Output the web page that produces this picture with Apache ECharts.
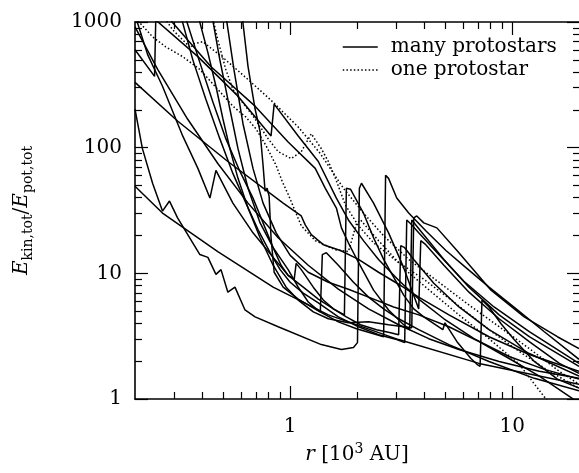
<!DOCTYPE html>
<html><head><meta charset="utf-8">
<script src="https://cdn.jsdelivr.net/npm/echarts@6/dist/echarts.min.js"></script>
<style>html,body{margin:0;padding:0;background:#fff}#c{width:579px;height:473px}</style>
</head><body><div id="c"></div>
<script>
// tick values
const xMajorTicks = [1, 10];
const xMinorTicks = [0.3,0.4,0.5,0.6,0.7,0.8,0.9,2,3,4,5,6,7,8,9];
const yMajorTicks = [1, 10, 100, 1000];
const yMinorTicks = [2,3,4,5,6,7,8,9,20,30,40,50,60,70,80,90,200,300,400,500,600,700,800,900];

// "many protostars" curves (r in 10^3 AU, Ekin/Epot)
const s1x = [0.2,0.266,0.472,0.838,1.486,3.08,7.09,20];
const s1y = [49.3,30.2,14.9,7.76,4.67,2.97,1.92,1.31];
const s2x = [0.2,0.216,0.240,0.266,0.286,0.311,0.392,0.426,0.463,0.488,0.524,0.564,0.626,0.695,0.883,1.381,1.702,1.928,2.01,2.05,2.095,2.375,2.775,3.246,3.793,3.875,4.081,4.925,6.388,8.732,11.94,16.32,20];
const s2y = [203,98.2,52.1,31.3,37.6,27.6,14.1,13.4,9.82,10.7,7.08,7.76,5.11,4.50,3.76,2.71,2.48,2.57,2.81,47.5,52.1,36.2,21.0,11.1,5.21,18.2,16.9,11.6,7.08,4.35,2.86,1.92,1.60];
const s3x = [0.2,0.245,0.248,0.384,0.582,0.820,0.847,1.087,1.339,1.615,1.829,2.138,2.5,3.08,3.793,4.925,6.73,9.688,13.96,20];
const s3y = [602,369,1037,530,257,124,222,124,77.6,39.7,26.6,18.2,12.9,8.81,6.24,4.35,3.02,2.18,1.72,1.44];
const s4x = [0.2835,0.439,0.695,0.979,1.297,1.44,1.615,1.702,1.829,2.031,2.375,2.775,3.246,3.455,3.529,3.997,4.925,6.388,8.732,11.94,20];
const s4y = [1075,442,214,111,68.4,47.5,33.1,23.0,17.5,12.2,7.35,5.11,3.90,3.56,26.6,20.3,12.9,7.76,4.67,3.13,1.82];
const s5x = [0.607,0.646,0.695,0.732,0.755,0.771,0.787,0.804,0.820,0.847,0.930,1.087,1.339,1.648,1.99,2.375,2.636,2.69,2.775,3.02,3.419,4.081,5.03,6.19,7.866,10.42,13.96,20];
const s5y = [1135,442,203,134,72.1,45.1,47.5,41.1,19.2,10.2,7.76,6.24,5.02,4.11,3.62,3.31,3.13,60.2,57.0,39.7,30.2,21.8,15.2,11.1,7.76,5.21,3.43,2.07];
const s6x = [0.384,0.426,0.463,0.498,0.535,0.582,0.646,0.732,0.838,0.959,1.087,1.271,1.486,1.829,2.254,2.775,3.246,3.529,3.603,3.718,3.997,4.58,5.64,8.03,11.33,15.98,20];
const s6y = [1135,570,308,169,98.2,57.0,33.1,19.2,11.6,7.76,6.13,4.93,4.35,4.04,4.11,3.90,3.76,3.69,27.6,28.6,25.2,23.0,15.2,7.35,4.50,3.13,2.52];
const s7x = [0.2,0.228,0.266,0.328,0.384,0.435,0.463,0.552,0.680,0.838,0.979,1.145,1.339,1.566,1.755,1.791,1.869,2.138,2.375,2.636,2.924,3.246,3.603,3.997,4.87,4.98,5.64,6.52,6.94,7.17,7.31,7.866,8.91,10.2,12.58,15.98,20];
const s7y = [1135,550,308,124,68.4,39.7,65.9,36.2,21.0,13.4,9.64,7.76,6.24,5.21,4.67,47.5,46.7,30.2,19.2,12.9,9.31,6.71,5.21,4.50,3.56,4.04,2.86,2.10,1.89,1.82,6.13,5.40,3.97,2.97,1.99,1.44,1.22];
const s8x = [0.2,0.311,0.524,0.930,1.122,1.169,1.245,1.41,1.684,2.031,2.5,3.08,3.793,5.189,7.866,11.94,20];
const s8y = [331,163,77.6,36.2,28.6,24.3,20.3,16.9,15.2,12.9,10.2,8.19,6.47,4.67,3.13,2.26,1.66];
const s9x = [0.335,0.392,0.449,0.513,0.594,0.680,0.755,0.838,0.910,0.979,1.043,1.064,1.122,1.271,1.41,1.566,1.791,2.074,2.449,2.834,3.08,3.147,3.28,3.603,4.436,5.757,7.866,11.94,20];
const s9y = [1135,475,230,118,64.7,39.7,25.2,16.0,11.6,9.64,8.98,12.0,10.7,7.76,6.13,5.21,4.50,3.90,3.56,3.37,3.25,16.6,16.0,12.9,8.34,5.40,3.56,2.30,1.52];
const s10x = [0.444,0.482,0.535,0.582,0.646,0.732,0.838,0.979,1.087,1.206,1.311,1.367,1.396,1.455,1.648,1.928,2.254,2.636,3.08,3.793,5.189,7.866,12.58,20];
const s10y = [1135,502,203,98.2,47.5,25.2,16.0,10.7,7.76,5.91,5.21,4.93,14.1,14.6,11.6,8.50,6.47,5.21,4.35,3.56,2.71,1.99,1.46,1.16];
const s11x = [0.321,0.364,0.417,0.482,0.552,0.632,0.717,0.812,0.901,1.0,1.145,1.339,1.648,2.031,2.5,3.02,3.28,3.35,3.49,3.793,4.674,6.06,8.288,11.94,20];
const s11y = [1135,502,243,118,62.4,36.2,22.2,14.6,10.7,8.50,6.96,5.81,4.50,3.76,3.25,2.97,2.81,26.6,24.8,21.0,14.1,8.65,5.40,3.43,1.92];
const s12x = [0.2,0.253,0.345,0.472,0.646,0.883,1.206,1.648,2.254,3.08,4.21,5.757,8.732,13.25,20];
const s12y = [914,419,169,74.8,36.2,19.2,11.6,7.48,5.21,3.90,3.02,2.48,1.99,1.66,1.46];
const s13x = [0.513,0.558,0.613,0.680,0.755,0.865,1.0,1.206,1.486,1.829,2.254,2.924,3.793,5.189,7.09,9.688,13.25,20];
const s13y = [1135,419,155,68.4,36.2,21.0,13.9,10.2,8.50,7.48,6.47,5.40,4.67,3.76,2.86,2.10,1.52,0.93];

// "one protostar" curves
const d1x = [0.201,0.240,0.275,0.328,0.392,0.472,0.552,0.632,0.702,0.778,0.865,0.920,0.979,1.053,1.122,1.297,1.599,1.829,1.908,1.99,2.074,2.5,3.313,4.081,5.757,7.866,10.76,15.0];
const d1y = [1075,762,635,530,419,291,214,175,141,104,72.1,54.0,42.6,31.3,23.9,18.2,15.4,14.9,19.2,24.8,26.6,18.2,10.6,7.76,4.67,3.02,1.89,0.88];
const d2x = [0.445,0.472,0.513,0.552,0.594,0.680,0.795,0.883,1.01,1.122,1.245,1.381,1.486,1.599,1.774,2.031,2.375,3.08,3.997,5.46,7.866,10.76,14.70,20];
const d2y = [1135,721,419,291,243,179,118,93.0,81.9,93.0,129,98.2,77.6,57.0,34.9,23.9,17.5,12.2,8.98,5.91,3.56,2.39,1.66,1.22];
const d3x = [0.266,0.296,0.328,0.356,0.368,0.404,0.498,0.646,0.838,1.087,1.367,1.738,2.138,2.636,3.419,4.674,6.388,8.732,11.94,16.32,20];
const d3y = [1135,865,721,624,671,697,521,349,230,146,89.8,47.5,30.2,19.9,12.9,8.50,5.60,3.76,2.52,1.66,1.31];

const manyCurves = [[s1x,s1y],[s2x,s2y],[s3x,s3y],[s4x,s4y],[s5x,s5y],[s6x,s6y],[s7x,s7y],[s8x,s8y],[s9x,s9y],[s10x,s10y],[s11x,s11y],[s12x,s12y],[s13x,s13y]];
const oneCurves = [[d1x,d1y],[d2x,d2y],[d3x,d3y]];

const FONT = 'DejaVu Serif';
const NAME_MANY = 'many protostars';
const NAME_ONE = 'one protostar';

function mk(c, name, dotted) {
  return {
    type: 'line', name: name, xAxisIndex: 0, yAxisIndex: 0,
    data: c[0].map((x, i) => [x, c[1][i]]),
    symbol: 'none', showSymbol: false, clip: true, silent: true,
    lineStyle: { color: '#000', width: 1.5, type: dotted ? [1.5, 2.2] : 'solid' },
    itemStyle: { color: '#000' },
    emphasis: { disabled: true }
  };
}
const series = manyCurves.map(c => mk(c, NAME_MANY, false)).concat(oneCurves.map(c => mk(c, NAME_ONE, true)));

const fmt = v => String(Math.round(v));
const tickStyle = { color: '#000', width: 1.2 };
function xAx(pos, ticks, len, major, line) {
  return {
    type: 'log', logBase: 10, min: 0.2, max: 20, position: pos,
    axisLine: { show: line, onZero: false, lineStyle: { color: '#000', width: 1.6 } },
    axisTick: { show: true, inside: true, length: len, customValues: ticks, lineStyle: tickStyle },
    axisLabel: major ? { show: true, customValues: ticks, formatter: fmt, margin: 18, color: '#000', fontFamily: FONT, fontSize: 20 } : { show: false },
    splitLine: { show: false }, minorTick: { show: false }
  };
}
function yAx(pos, ticks, len, major, line) {
  return {
    type: 'log', logBase: 10, min: 1, max: 1000, position: pos,
    axisLine: { show: line, onZero: false, lineStyle: { color: '#000', width: 1.6 } },
    axisTick: { show: true, inside: true, length: len, customValues: ticks, lineStyle: tickStyle },
    axisLabel: major ? { show: true, customValues: ticks, formatter: fmt, margin: 13, color: '#000', fontFamily: FONT, fontSize: 20 } : { show: false },
    splitLine: { show: false }, minorTick: { show: false }
  };
}
const xa0 = xAx('bottom', xMajorTicks, 13, true, true);
xa0.name = '{i|r} [10{sup|3} AU]';
xa0.nameLocation = 'middle';
xa0.nameGap = 43;
xa0.nameTextStyle = { color: '#000', fontFamily: FONT, fontSize: 20, lineHeight: 26,
  rich: { i: { fontFamily: FONT, fontStyle: 'italic', fontSize: 20, lineHeight: 26 },
          sup: { fontFamily: FONT, fontSize: 14, verticalAlign: 'top', lineHeight: 14 } } };
const ya0 = yAx('left', yMajorTicks, 13, true, true);
ya0.name = '{i|E}{s|kin,tot}{n|/}{i|E}{s|pot,tot}';
ya0.nameLocation = 'middle';
ya0.nameGap = 100;
ya0.nameTextStyle = { color: '#000', fontFamily: FONT, fontSize: 20, lineHeight: 26,
  rich: { i: { fontFamily: FONT, fontStyle: 'italic', fontSize: 20, lineHeight: 26 },
          n: { fontFamily: FONT, fontSize: 20, lineHeight: 26 },
          s: { fontFamily: FONT, fontSize: 14, verticalAlign: 'bottom', lineHeight: 14 } } };

const chart = echarts.init(document.getElementById('c'), null, { renderer: 'canvas' });
chart.setOption({
  animation: false,
  backgroundColor: '#fff',
  grid: { left: 135, top: 22, width: 445, height: 381, containLabel: false },
  xAxis: [xa0, xAx('bottom', xMinorTicks, 7, false, false), xAx('top', xMajorTicks, 13, false, true), xAx('top', xMinorTicks, 7, false, false)],
  yAxis: [ya0, yAx('left', yMinorTicks, 7, false, false), yAx('right', yMajorTicks, 12, false, false), yAx('right', yMinorTicks, 6, false, false)],
  legend: {
    show: true, orient: 'vertical', left: 342, top: 37, padding: 0, itemGap: 3,
    itemWidth: 35, itemHeight: 14, selectedMode: false,
    itemStyle: { opacity: 0 },
    lineStyle: { width: 1.5, color: '#000', opacity: 1 },
    data: [NAME_MANY, NAME_ONE],
    textStyle: { fontFamily: FONT, fontSize: 20, color: '#000', padding: [0, 0, 0, 8] }
  },
  series: series
});
</script></body></html>
